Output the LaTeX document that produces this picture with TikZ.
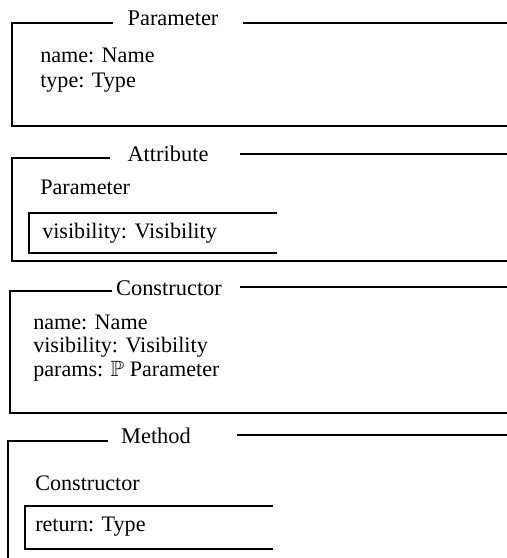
\documentclass[tikz,border=0pt]{standalone}
\usepackage{amssymb}
\usepackage{fontspec}
\setmainfont{Liberation Serif}
\tikzset{
    schematitle/.style = {
        font=\fontsize{16.8}{17}\selectfont,
        inner sep=0pt,
        anchor=base
    },
    schemafield/.style = {
        font=\fontsize{16.6}{17.6}\selectfont,
        inner sep=0pt,
        align=left,
        anchor=base west
    },
    schemaline/.style = {
        draw=black,
        line width=1.1pt
    },
    includeline/.style = {
        draw=black,
        line width=0.9pt
    }
}

\begin{document}
\begin{tikzpicture}[x=0.75pt,y=-0.75pt]
    \useasboundingbox (0,0) rectangle (507,558);

    % Parameter (base = last line)
    \node [schematitle] (paramtitle) at (173,25) {Parameter};
    \draw [schemaline] (113,23) -- (12,23) -- (12,126) -- (507,126);
    \draw [schemaline] (243,23) -- (507,23);
    \node [schemafield] (paramfields) at (40,87) {name: Name\\[1pt]type: Type};

    % Attribute
    \node [schematitle] (attrtitle) at (168,161) {Attribute};
    \draw [schemaline] (110,158) -- (12,158) -- (12,261) -- (507,261);
    \draw [schemaline] (240,154) -- (507,154);
    \node [schemafield] (attrinclude) at (40,194) {Parameter};
    \draw [includeline] (277,213) -- (29,213) -- (29,253) -- (277,253);
    \node [schemafield] (attrvis) at (42,238) {visibility: Visibility};

    % Constructor
    \node [schematitle] (constitle) at (169,295) {Constructor};
    \draw [schemaline] (112,291) -- (10,291) -- (10,413) -- (507,413);
    \draw [schemaline] (240,287) -- (507,287);
    \node [schemafield] (consfields) at (33,376)
        {name: Name\\visibility: Visibility\\params: $\mathbb{P}$ Parameter};

    % Method
    \node [schematitle] (methtitle) at (156,443) {Method};
    \draw [schemaline] (108,441) -- (8,441) -- (8,558);
    \draw [schemaline] (237,435) -- (507,435);
    \node [schemafield] (methinclude) at (35,490) {Constructor};
    \draw [includeline] (273,506) -- (25,506) -- (25,549) -- (273,549);
    \node [schemafield] (methreturn) at (35,531) {return: Type};
\end{tikzpicture}
\end{document}
